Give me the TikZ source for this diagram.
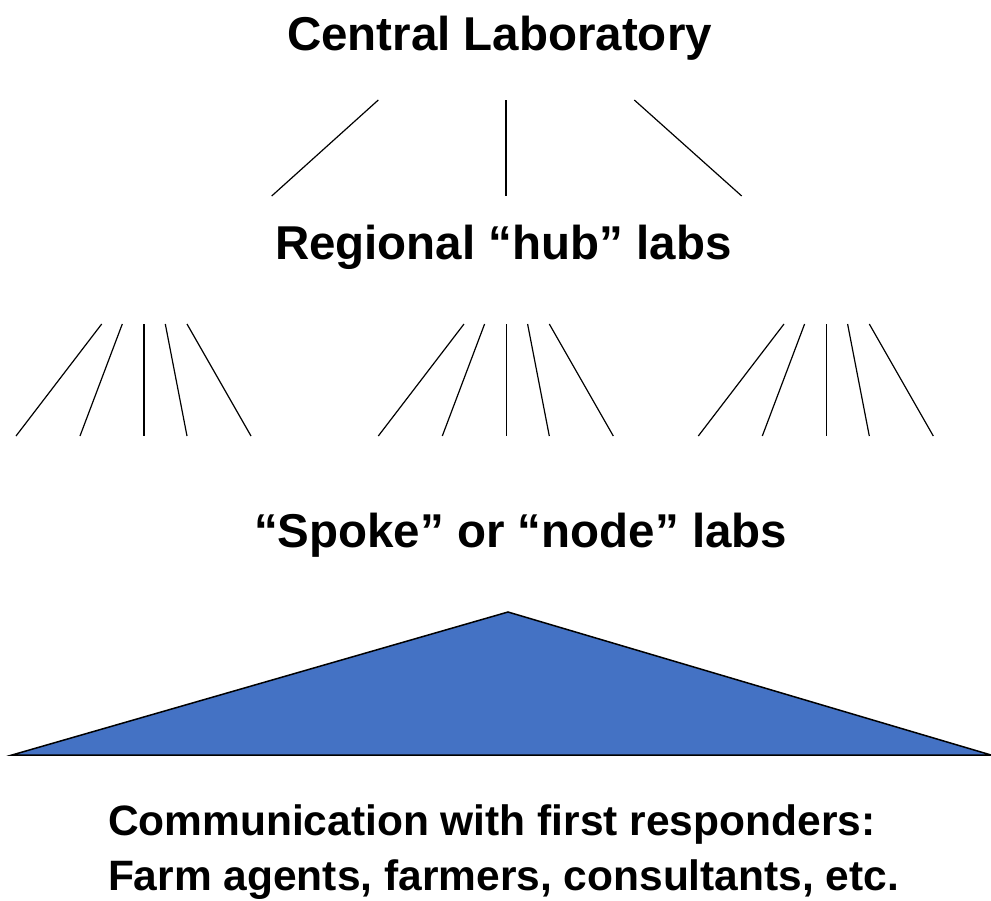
\documentclass[tikz,border=0pt]{standalone}
\usepackage{fontspec}
\setmainfont{Liberation Sans}
\begin{document}
\begin{tikzpicture}[x=1pt,y=-1pt,
  lbl/.style={anchor=base west,inner sep=0pt,outer sep=0pt,font=\bfseries\fontsize{47.5}{50}\selectfont},
  lblsmall/.style={anchor=base west,inner sep=0pt,outer sep=0pt,font=\bfseries\fontsize{42.5}{45}\selectfont},
  link/.style={draw=black,line width=1.2pt},
  tri/.style={draw=black,line width=1.5pt,fill=triblue,line join=miter}]
\definecolor{triblue}{HTML}{4472C4}
\useasboundingbox (0,0) rectangle (991,900);
% titles
\node[lbl] (central) at (287,50) {Central Laboratory};
\node[lbl] (regional) at (275,259) {Regional “hub” labs};
\node[lbl] (spoke) at (254,547) {“Spoke” or “node” labs};
\node[lblsmall] (comm1) at (108,835) {Communication with first responders:};
\node[lblsmall] (comm2) at (108,890) {Farm agents, farmers, consultants, etc.};
% top fan
\coordinate (t1a) at (378.3,100); \coordinate (t1b) at (271.7,196);
\coordinate (t2a) at (506,100);   \coordinate (t2b) at (506,196);
\coordinate (t3a) at (634.3,100); \coordinate (t3b) at (741.7,196);
\draw[link] (t1a) -- (t1b);
\draw[link] (t2a) -- (t2b);
\draw[link] (t3a) -- (t3b);
% lower fans
\foreach \g/\ox in {a/0,b/362.3,c/682.3}{
  \coordinate (\g1u) at (101.7+\ox,324); \coordinate (\g1d) at (16+\ox,436);
  \coordinate (\g2u) at (122.3+\ox,324); \coordinate (\g2d) at (80+\ox,436);
  \coordinate (\g3u) at (144+\ox,324);   \coordinate (\g3d) at (144+\ox,436);
  \coordinate (\g4u) at (165.3+\ox,324); \coordinate (\g4d) at (187+\ox,436);
  \coordinate (\g5u) at (187+\ox,324);   \coordinate (\g5d) at (251+\ox,436);
  \foreach \k in {1,...,5}{\draw[link] (\g\k u) -- (\g\k d);}
}
% triangle
\coordinate (apex) at (508,612);
\coordinate (bl) at (12,755);
\coordinate (br) at (991,755);
\draw[tri] (apex) -- (br) -- (bl) -- cycle;
\end{tikzpicture}
\end{document}
